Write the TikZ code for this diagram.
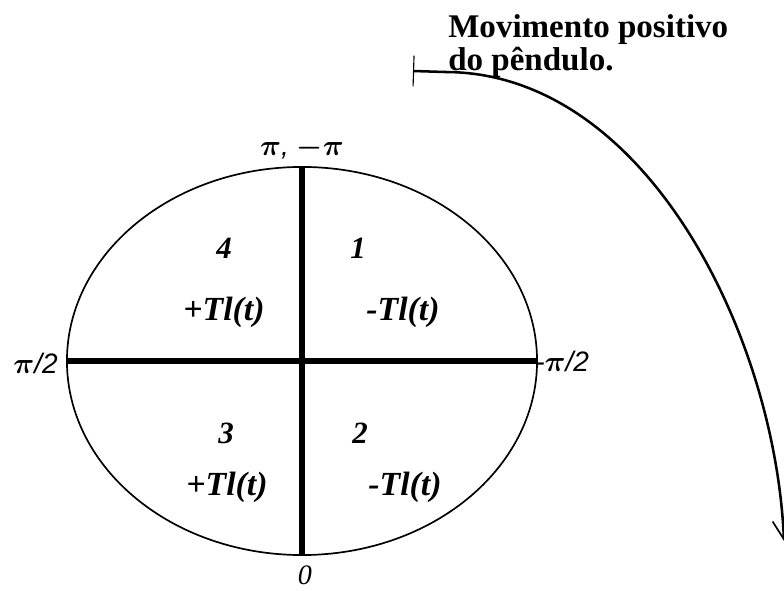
\documentclass[tikz,border=0pt]{standalone}
\usepackage{fontspec}
\setmainfont{Liberation Serif}
\setsansfont{Liberation Sans}
\usepackage{tikz}
\usetikzlibrary{shapes.geometric, arrows.meta}
\tikzset{
  rim/.style={
    ellipse, draw, line width=1.2pt,
    inner sep=0pt,
    minimum width=11.75cm, minimum height=9.7cm
  },
  axis/.style={line width=4.4pt},
  quadnum/.style={font=\fontsize{22}{24}\selectfont\bfseries\itshape},
  torque/.style={font=\fontsize{24}{26}\selectfont\bfseries\itshape},
  anglabel/.style={font=\fontsize{20}{24}\selectfont\sffamily\itshape\boldmath, inner sep=0pt},
  heading/.style={font=\fontsize{23.5}{24}\selectfont\bfseries, align=left, inner sep=0pt},
  motion/.style={
    {Bar[width=22pt, line width=0.8pt]}-{Straight Barb[length=13pt, width=15pt, line width=1.2pt]},
    line width=1.8pt
  }
}
\begin{document}
\begin{tikzpicture}[x=0.025cm, y=-0.025cm]
        \useasboundingbox (0,0) rectangle (784,591);
        \node[rim] (circ) at (302,361) {};
        \draw[axis] (circ.north) -- (circ.south);
        \draw[axis] (circ.west) -- (circ.east);
        \node[anglabel] (pitop) at (302,148) {$\pi$, $-\pi$};
        \node[anglabel, anchor=east] (pileft) at (58,363) {$\pi$/2};
        \node[anglabel, anchor=west] (piright) at (535,361) {-$\pi$/2};
        \node[anglabel, font=\fontsize{20}{24}\selectfont\itshape] (zero) at (305,575) {0};
        \node[quadnum] (q4) at (224,248) {4};
        \node[quadnum] (q1) at (358,248) {1};
        \node[quadnum] (q3) at (226,433) {3};
        \node[quadnum] (q2) at (360,433) {2};
        \node[torque] (t4) at (224,312) {+Tl(t)};
        \node[torque] (t1) at (403,312) {-Tl(t)};
        \node[torque] (t3) at (227,487) {+Tl(t)};
        \node[torque] (t2) at (405,487) {-Tl(t)};
        \node[heading, anchor=north west] (title) at (448,14) {Movimento positivo\\do pêndulo.};
        \coordinate (mvstart) at (413,71);
        \coordinate (mvbend) at (445,72);
        \coordinate (mvend) at (784,541);
        \draw[motion] (mvstart) -- (mvbend) .. controls (645,72) and (775,334) .. (mvend);
      \end{tikzpicture}
\end{document}
